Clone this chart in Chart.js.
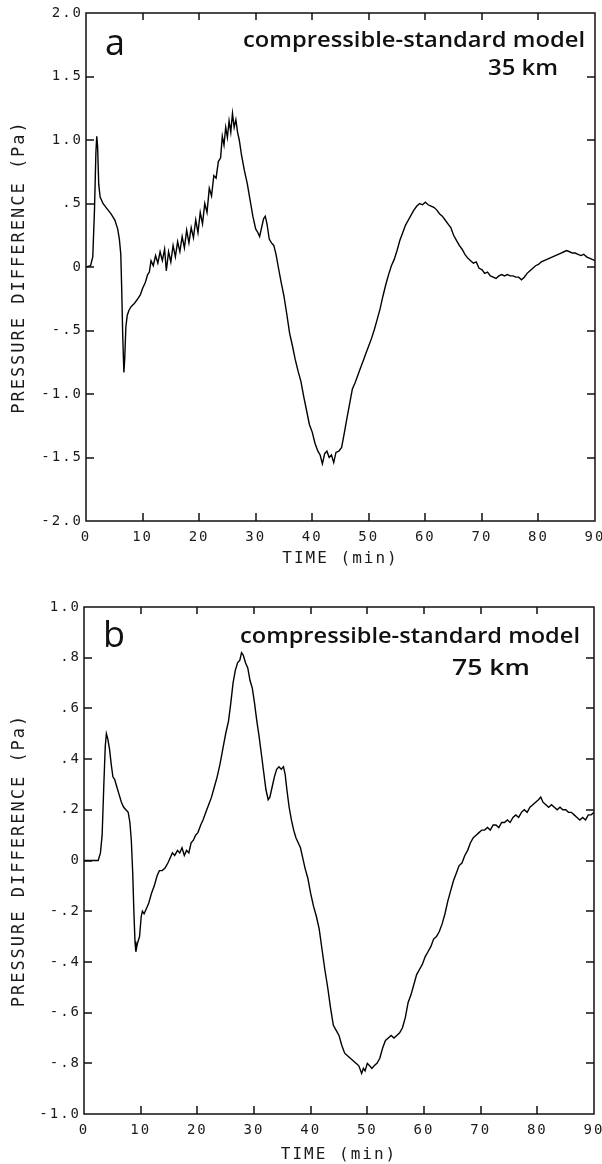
<!DOCTYPE html>
<html>
<head>
<meta charset="utf-8">
<script src="https://cdn.jsdelivr.net/npm/chart.js@4.4.1/dist/chart.umd.min.js"></script>
<style>
  html, body { margin: 0; padding: 0; background: #fff; }
  body { width: 602px; height: 1164px; position: relative; overflow: hidden; }
  canvas { position: absolute; left: 0; }
  #chart-a { top: 0; }
  #chart-b { top: 568px; }
</style>
</head>
<body>
<canvas id="chart-a" width="602" height="568"></canvas>
<canvas id="chart-b" width="602" height="596"></canvas>
<script>
// --- data ---
const timeA = [0, 0.8, 1.2, 1.5, 1.75, 1.9, 2.05, 2.25, 2.5, 3.0, 3.7, 4.4, 5.1, 5.6, 5.9, 6.15, 6.3, 6.5, 6.7, 6.85,
  7.05, 7.3, 7.6, 8.0, 8.5, 9.0, 9.6, 10.0, 10.5, 10.9, 11.2, 11.5, 11.9, 12.3, 12.7, 13.1, 13.5, 13.9, 14.2, 14.6,
  15.0, 15.4, 15.8, 16.2, 16.6, 17.0, 17.4, 17.8, 18.2, 18.6, 19.0, 19.4, 19.8, 20.2, 20.6, 21.0, 21.4, 21.8, 22.2, 22.6,
  23.0, 23.4, 23.8, 24.1, 24.4, 24.7, 25.0, 25.3, 25.6, 25.9, 26.2, 26.5, 26.8, 27.1, 27.5, 28.0, 28.5, 29.0, 29.5, 30.0,
  30.4, 30.7, 31.0, 31.4, 31.7, 32.0, 32.4, 32.8, 33.2, 33.6, 34.0, 34.5, 35.0, 35.5, 36.0, 36.5, 37.0, 37.5, 38.0, 38.5,
  39.0, 39.5, 40.0, 40.5, 41.0, 41.4, 41.8, 42.2, 42.6, 43.0, 43.4, 43.8, 44.2, 44.7, 45.2, 45.7, 46.1, 46.6, 47.1, 47.6,
  48.0, 48.5, 49.0, 49.5, 50.0, 50.5, 51.0, 51.5, 52.0, 52.5, 53.0, 53.5, 54.0, 54.5, 55.0, 55.5, 56.0, 56.5, 57.0, 57.5,
  58.0, 58.5, 59.0, 59.5, 60.0, 60.5, 61.0, 61.5, 62.0, 62.5, 63.0, 63.5, 64.0, 64.5, 65.0, 65.5, 66.0, 66.5, 67.0, 67.5,
  68.0, 68.5, 69.0, 69.5, 70.0, 70.5, 71.0, 71.5, 72.0, 72.5, 73.0, 73.5, 74.0, 74.5, 75.0, 75.5, 76.0, 76.5, 77.0, 77.5,
  78.0, 78.5, 79.0, 79.5, 80.0, 80.5, 81.0, 81.5, 82.0, 82.5, 83.0, 83.5, 84.0, 84.5, 85.0, 85.5, 86.0, 86.5, 87.0, 87.5,
  88.0, 88.5, 89.0, 89.5, 90.0];
const pressureA = [0, 0.01, 0.08, 0.45, 0.90, 1.03, 0.95, 0.65, 0.55, 0.50, 0.46, 0.42, 0.37, 0.30, 0.22, 0.10, -0.15, -0.55, -0.83, -0.72,
  -0.47, -0.38, -0.34, -0.31, -0.29, -0.26, -0.22, -0.17, -0.12, -0.06, -0.04, 0.05, 0.01, 0.09, 0.03, 0.12, 0.05, 0.14, -0.03, 0.12,
  0.04, 0.17, 0.08, 0.20, 0.12, 0.24, 0.15, 0.29, 0.19, 0.31, 0.23, 0.37, 0.27, 0.43, 0.34, 0.50, 0.43, 0.62, 0.56, 0.72,
  0.70, 0.83, 0.86, 1.03, 0.96, 1.10, 1.02, 1.15, 1.06, 1.21, 1.10, 1.16, 1.06, 1.00, 0.88, 0.76, 0.66, 0.53, 0.40, 0.30,
  0.27, 0.24, 0.30, 0.38, 0.40, 0.34, 0.22, 0.19, 0.17, 0.10, 0.00, -0.12, -0.23, -0.37, -0.52, -0.62, -0.73, -0.82, -0.90, -1.02,
  -1.13, -1.24, -1.30, -1.39, -1.45, -1.48, -1.55, -1.47, -1.45, -1.50, -1.48, -1.54, -1.46, -1.45, -1.42, -1.30, -1.20, -1.08, -0.96, -0.91,
  -0.86, -0.80, -0.74, -0.68, -0.62, -0.56, -0.49, -0.41, -0.33, -0.23, -0.14, -0.06, 0.01, 0.06, 0.13, 0.21, 0.27, 0.33, 0.37, 0.41,
  0.45, 0.48, 0.50, 0.49, 0.51, 0.49, 0.48, 0.47, 0.45, 0.42, 0.40, 0.37, 0.34, 0.31, 0.25, 0.21, 0.17, 0.14, 0.10, 0.07,
  0.05, 0.03, 0.04, -0.01, -0.02, -0.05, -0.04, -0.07, -0.08, -0.09, -0.07, -0.06, -0.07, -0.06, -0.07, -0.07, -0.08, -0.08, -0.10, -0.08,
  -0.05, -0.03, -0.01, 0.01, 0.02, 0.04, 0.05, 0.06, 0.07, 0.08, 0.09, 0.10, 0.11, 0.12, 0.13, 0.12, 0.11, 0.11, 0.10, 0.09,
  0.10, 0.08, 0.07, 0.06, 0.05];

const timeB = [0, 2.5, 2.9, 3.2, 3.5, 3.75, 3.95, 4.2, 4.5, 4.8, 5.1, 5.4, 5.8, 6.2, 6.6, 7.0, 7.4, 7.8, 8.1, 8.35,
  8.6, 8.8, 9.0, 9.15, 9.4, 9.8, 10.1, 10.3, 10.6, 11.0, 11.4, 11.9, 12.4, 12.9, 13.3, 13.8, 14.3, 14.8, 15.2, 15.6,
  16.0, 16.5, 16.9, 17.3, 17.7, 18.1, 18.5, 18.9, 19.3, 19.7, 20.1, 20.6, 21.0, 21.5, 22.0, 22.5, 23.0, 23.5, 24.0, 24.5,
  25.0, 25.5, 25.9, 26.3, 26.7, 27.1, 27.5, 27.8, 28.1, 28.5, 28.9, 29.3, 29.7, 30.1, 30.5, 30.9, 31.3, 31.7, 32.1, 32.5,
  32.8, 33.2, 33.6, 34.0, 34.4, 34.8, 35.2, 35.5, 35.8, 36.2, 36.6, 37.0, 37.4, 37.8, 38.2, 38.6, 39.0, 39.5, 40.0, 40.5,
  41.0, 41.5, 42.0, 42.5, 43.0, 43.5, 44.0, 44.5, 45.0, 45.5, 46.0, 46.5, 47.0, 47.5, 48.0, 48.5, 49.0, 49.3, 49.6, 50.0,
  50.4, 50.8, 51.2, 51.7, 52.2, 52.7, 53.2, 53.7, 54.2, 54.7, 55.2, 55.7, 56.2, 56.7, 57.2, 57.7, 58.2, 58.7, 59.2, 59.7,
  60.2, 60.7, 61.2, 61.7, 62.2, 62.7, 63.2, 63.7, 64.2, 64.7, 65.2, 65.7, 66.2, 66.7, 67.2, 67.7, 68.2, 68.7, 69.2, 69.7,
  70.2, 70.7, 71.2, 71.7, 72.2, 72.7, 73.2, 73.7, 74.2, 74.7, 75.2, 75.7, 76.2, 76.7, 77.2, 77.7, 78.2, 78.7, 79.2, 79.7,
  80.2, 80.6, 81.0, 81.5, 82.0, 82.5, 83.0, 83.5, 84.0, 84.5, 85.0, 85.5, 86.0, 86.5, 87.0, 87.5, 88.0, 88.5, 89.0, 89.5,
  90.0];
const pressureB = [0, 0, 0.03, 0.10, 0.30, 0.45, 0.50, 0.48, 0.44, 0.38, 0.33, 0.32, 0.29, 0.26, 0.23, 0.21, 0.20, 0.19, 0.15, 0.08,
  -0.05, -0.20, -0.32, -0.36, -0.33, -0.30, -0.22, -0.20, -0.21, -0.19, -0.17, -0.13, -0.10, -0.06, -0.04, -0.04, -0.03, -0.01, 0.01, 0.03,
  0.02, 0.04, 0.03, 0.05, 0.02, 0.04, 0.03, 0.07, 0.08, 0.10, 0.11, 0.14, 0.16, 0.19, 0.22, 0.25, 0.29, 0.33, 0.38, 0.44,
  0.50, 0.55, 0.62, 0.70, 0.75, 0.78, 0.79, 0.82, 0.81, 0.78, 0.76, 0.71, 0.68, 0.62, 0.55, 0.49, 0.42, 0.35, 0.28, 0.24,
  0.25, 0.29, 0.33, 0.36, 0.37, 0.36, 0.37, 0.34, 0.28, 0.21, 0.16, 0.12, 0.09, 0.07, 0.05, 0.01, -0.03, -0.07, -0.13, -0.18,
  -0.22, -0.27, -0.35, -0.43, -0.50, -0.58, -0.65, -0.67, -0.69, -0.73, -0.76, -0.77, -0.78, -0.79, -0.80, -0.81, -0.84, -0.82, -0.83, -0.80,
  -0.81, -0.82, -0.81, -0.80, -0.78, -0.74, -0.71, -0.70, -0.69, -0.70, -0.69, -0.68, -0.66, -0.62, -0.56, -0.53, -0.49, -0.45, -0.43, -0.41,
  -0.38, -0.36, -0.34, -0.31, -0.30, -0.28, -0.25, -0.21, -0.16, -0.12, -0.08, -0.05, -0.02, -0.01, 0.02, 0.04, 0.07, 0.09, 0.10, 0.11,
  0.12, 0.12, 0.13, 0.12, 0.14, 0.14, 0.13, 0.15, 0.15, 0.16, 0.15, 0.17, 0.18, 0.17, 0.19, 0.20, 0.19, 0.21, 0.22, 0.23,
  0.24, 0.25, 0.23, 0.22, 0.21, 0.22, 0.21, 0.20, 0.21, 0.20, 0.20, 0.19, 0.19, 0.18, 0.17, 0.16, 0.17, 0.16, 0.18, 0.18,
  0.19];

const xTickValues = [0, 10, 20, 30, 40, 50, 60, 70, 80, 90];
const xTickLabels = ['0', '10', '20', '30', '40', '50', '60', '70', '80', '90'];
const yTickValuesA = [-2, -1.5, -1, -0.5, 0, 0.5, 1, 1.5, 2];
const yTickLabelsA = ['-2.0', '-1.5', '-1.0', '-.5', '0', '.5', '1.0', '1.5', '2.0'];
const yTickValuesB = [-1, -0.8, -0.6, -0.4, -0.2, 0, 0.2, 0.4, 0.6, 0.8, 1];
const yTickLabelsB = ['-1.0', '-.8', '-.6', '-.4', '-.2', '0', '.2', '.4', '.6', '.8', '1.0'];

const xTitle = 'TIME (min)';
const yTitle = 'PRESSURE DIFFERENCE (Pa)';
const modelName = 'compressible-standard model';

// --- drawing ---
const monoFont = "'DejaVu Sans Mono', 'Liberation Mono', monospace";
const inkColor = '#1a1a1a';

// frame box with inward tick marks (one path), then the panel captions
const plotFrame = {
  id: 'plotFrame',
  beforeDraw(chart) {
    chart.ctx.letterSpacing = '2px';
  },
  afterDraw(chart, args, opts) {
    const { ctx, chartArea: a } = chart;
    const xs = chart.scales.x;
    const ys = chart.scales.y;
    const w = a.right - a.left;
    const h = a.bottom - a.top;
    const x0 = Number.isFinite(xs.min) ? xs.min : opts.xRange[0];
    const x1 = Number.isFinite(xs.max) ? xs.max : opts.xRange[1];
    const y0 = Number.isFinite(ys.min) ? ys.min : opts.yRange[0];
    const y1 = Number.isFinite(ys.max) ? ys.max : opts.yRange[1];
    const len = 8;

    ctx.save();
    ctx.letterSpacing = '0px';
    ctx.setLineDash([]);
    ctx.strokeStyle = '#111';
    ctx.lineWidth = 1.5;
    ctx.beginPath();
    ctx.rect(a.left, a.top, w, h);
    xTickValues.forEach((v) => {
      const px = Math.round(a.left + (v - x0) / (x1 - x0) * w);
      ctx.moveTo(px, a.bottom);
      ctx.lineTo(px, a.bottom - len);
      ctx.moveTo(px, a.top);
      ctx.lineTo(px, a.top + len - 1);
    });
    opts.yTicks.forEach((v) => {
      const py = Math.round(a.bottom - (v - y0) / (y1 - y0) * h);
      ctx.moveTo(a.left, py);
      ctx.lineTo(a.left + len, py);
      ctx.moveTo(a.right, py);
      ctx.lineTo(a.right - len, py);
    });
    ctx.stroke();

    ctx.fillStyle = '#111';
    ctx.textBaseline = 'alphabetic';
    (opts.labels || []).forEach((lb) => {
      ctx.font = lb.font;
      const tw = ctx.measureText(lb.text).width;
      const sx = lb.width ? lb.width / tw : 1;
      ctx.save();
      ctx.translate(a.left + lb.dx, a.top + lb.dy);
      ctx.scale(sx, 1);
      ctx.fillText(lb.text, 0, 0);
      ctx.restore();
    });
    ctx.restore();
  }
};

function buildPanel(canvasId, times, values, yMin, yMax, yTickValues, yTickLabels, layout, labels) {
  const canvas = document.getElementById(canvasId);
  return new Chart(canvas, {
    type: 'line',
    data: {
      datasets: [{
        data: times.map((t, i) => ({ x: t, y: values[i] })),
        borderColor: '#000',
        borderWidth: 1.4,
        pointRadius: 0,
        tension: 0,
        fill: false
      }]
    },
    options: {
      responsive: false,
      animation: false,
      events: [],
      layout: { padding: { top: layout.top, right: layout.right, left: 0, bottom: 0 } },
      scales: {
        x: {
          type: 'linear',
          min: 0,
          max: 90,
          afterBuildTicks(scale) {
            scale.ticks = xTickValues.map((v) => ({ value: v }));
          },
          afterFit(scale) {
            scale.height = layout.xHeight;
            scale.paddingLeft = 0; scale.paddingRight = 0;
          },
          grid: { display: false, drawTicks: false },
          border: { display: false },
          ticks: {
            autoSkip: false,
            maxRotation: 0,
            padding: layout.xPad,
            color: inkColor,
            font: { family: monoFont, size: 14 },
            callback: (v, i) => xTickLabels[i]
          },
          title: {
            display: true,
            text: xTitle,
            color: inkColor,
            font: { family: monoFont, size: 16 },
            padding: { top: 0, bottom: layout.xTitlePad }
          }
        },
        y: {
          type: 'linear',
          min: yMin,
          max: yMax,
          afterBuildTicks(scale) {
            scale.ticks = yTickValues.map((v) => ({ value: v }));
          },
          afterFit(scale) {
            scale.width = layout.yWidth;
            scale.paddingTop = 0; scale.paddingBottom = 0;
          },
          grid: { display: false, drawTicks: false },
          border: { display: false },
          ticks: {
            autoSkip: false,
            padding: 3,
            color: inkColor,
            font: { family: monoFont, size: 14 },
            callback: (v, i) => yTickLabels[i]
          },
          title: {
            display: true,
            text: yTitle,
            color: inkColor,
            font: { family: monoFont, size: 17 },
            padding: { top: 9, bottom: 0 }
          }
        }
      },
      plugins: {
        legend: { display: false },
        tooltip: { enabled: false },
        plotFrame: { labels, yTicks: yTickValues, xRange: [0, 90], yRange: [yMin, yMax] }
      }
    },
    plugins: [plotFrame]
  });
}

const labelFont = "600 21px 'Open Sans', 'Noto Sans', sans-serif";
const letterFont = "400 36px 'Open Sans', 'Noto Sans', sans-serif";

buildPanel('chart-a', timeA, pressureA, -2, 2, yTickValuesA, yTickLabelsA,
  { top: 13, right: 7, yWidth: 86, xHeight: 47, xPad: 8, xTitlePad: 0 },
  [
    { text: 'a', font: letterFont, dx: 19, dy: 42 },
    { text: modelName, font: labelFont, dx: 157, dy: 34, width: 342 },
    { text: '35 km', font: labelFont, dx: 402, dy: 62, width: 70 }
  ]);

buildPanel('chart-b', timeB, pressureB, -1, 1, yTickValuesB, yTickLabelsB,
  { top: 39, right: 8, yWidth: 84, xHeight: 50, xPad: 8, xTitlePad: 0 },
  [
    { text: 'b', font: letterFont, dx: 19, dy: 40 },
    { text: modelName, font: labelFont, dx: 156, dy: 36, width: 340 },
    { text: '75 km', font: labelFont, dx: 368, dy: 68, width: 78 }
  ]);
</script>
</body>
</html>
